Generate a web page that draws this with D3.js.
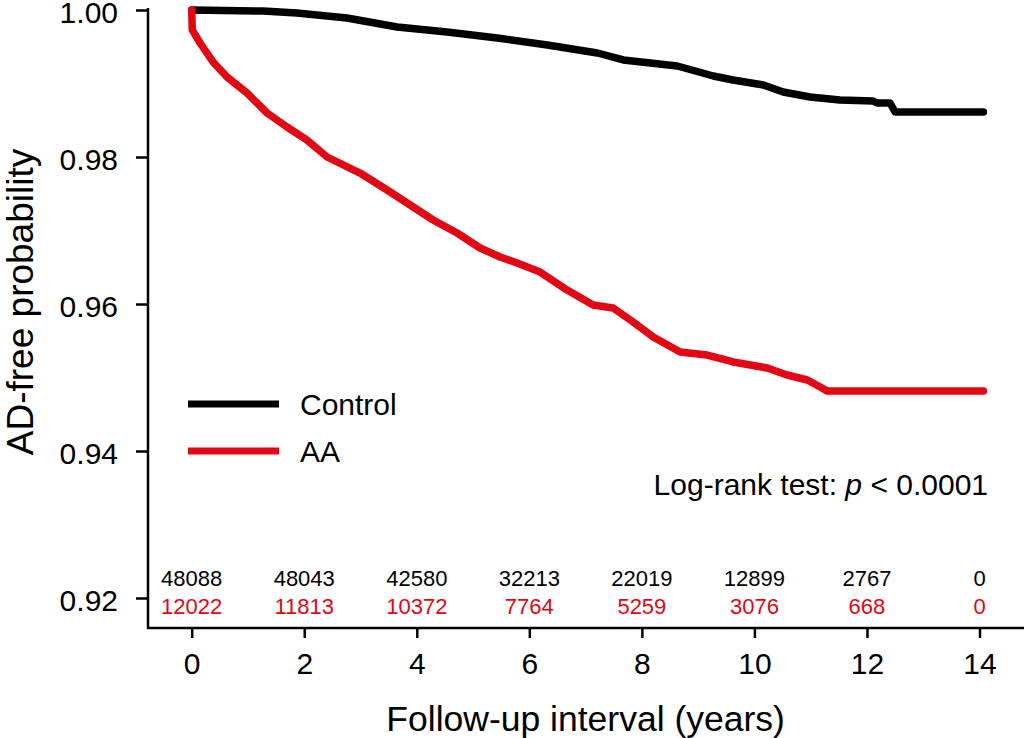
<!DOCTYPE html>
<html>
<head>
<meta charset="utf-8">
<script src="https://cdn.jsdelivr.net/npm/d3@7"></script>
<style>
  body { margin: 0; background: #fff; }
  svg { display: block; font-family: "Liberation Sans", Arial, sans-serif; }
</style>
</head>
<body>
<svg id="chart" width="1024" height="738"></svg>
<script>
// =======================================================
// Data
// =======================================================
const years = [0, 2, 4, 6, 8, 10, 12, 14];
const yTicks = [0.92, 0.94, 0.96, 0.98, 1.00];

const riskControl = [48088, 48043, 42580, 32213, 22019, 12899, 2767, 0];
const riskAA = [12022, 11813, 10372, 7764, 5259, 3076, 668, 0];

const controlTime = [0, 1.27, 1.87, 2.76, 3.65, 4.54, 5.43, 6.32, 7.21, 7.67, 8.63, 9.27, 9.62, 10.16, 10.51, 10.99, 11.52, 12.11, 12.18, 12.41, 12.50, 14.07];
const controlSurv = [1.0, 0.99986, 0.99959, 0.99891, 0.99769, 0.99701, 0.99619, 0.99524, 0.99415, 0.99320, 0.99238, 0.99102, 0.99048, 0.98980, 0.98884, 0.98816, 0.98776, 0.98762, 0.98735, 0.98735, 0.98612, 0.98612];

const aaTime = [0, 0.01, 0.148, 0.379, 0.628, 0.983, 1.339, 1.694, 2.05, 2.406, 2.992, 3.472, 3.828, 4.29, 4.716, 5.125, 5.481, 5.783, 6.192, 6.672, 7.134, 7.49, 7.845, 8.201, 8.681, 9.161, 9.623, 10.23, 10.58, 10.94, 11.17, 11.29, 14.07];
const aaSurv = [1.0, 0.9973, 0.99551, 0.99293, 0.99088, 0.98871, 0.98599, 0.98408, 0.98231, 0.98000, 0.97782, 0.97551, 0.97374, 0.97143, 0.96966, 0.96762, 0.96640, 0.96558, 0.96435, 0.96190, 0.95986, 0.95946, 0.95755, 0.95551, 0.95347, 0.95306, 0.95211, 0.95129, 0.95034, 0.94966, 0.94871, 0.94816, 0.94816];

const series = [
  { name: "Control", color: "#000000", t: controlTime, s: controlSurv, risk: riskControl },
  { name: "AA", color: "#e30613", t: aaTime, s: aaSurv, risk: riskAA },
];

// =======================================================
// Scales
// =======================================================
const svg = d3.select("#chart");

const x = d3.scaleLinear().domain([0, 14]).range([191.7, 979.5]);
const y = d3.scaleLinear().domain([0.92, 1.0]).range([598, 10]);

const AXIS_X = 148;   // y-axis line
const AXIS_Y = 628;   // x-axis line

// =======================================================
// Axes
// =======================================================
const gx = svg.append("g")
  .attr("transform", `translate(0,${AXIS_Y})`)
  .call(d3.axisBottom(x).tickValues(years).tickSize(10).tickPadding(15));
gx.select(".domain").remove();
gx.selectAll("line").attr("stroke", "#000").attr("stroke-width", 2.5);
gx.selectAll("text").style("font-size", "30px").attr("fill", "#000");

const gy = svg.append("g")
  .attr("transform", `translate(${AXIS_X},0)`)
  .call(d3.axisLeft(y).tickValues(yTicks).tickFormat(d3.format(".2f")).tickSize(12).tickPadding(18));
gy.select(".domain").remove();
gy.selectAll("line").attr("stroke", "#000").attr("stroke-width", 2.5);
gy.selectAll("text").style("font-size", "30px").attr("fill", "#000").attr("dy", "0.4em");

// L-shaped frame
svg.append("path")
  .attr("d", `M${AXIS_X},8 V${AXIS_Y} H1024`)
  .attr("fill", "none")
  .attr("stroke", "#000")
  .attr("stroke-width", 2.5);

// Axis titles
svg.append("text")
  .attr("x", (x(0) + x(14)) / 2)
  .attr("y", 731)
  .attr("text-anchor", "middle")
  .style("font-size", "35.5px")
  .text("Follow-up interval (years)");

svg.append("text")
  .attr("transform", `translate(33,${(y(0.92) + y(1.0)) / 2 - 2}) rotate(-90)`)
  .attr("text-anchor", "middle")
  .style("font-size", "37px")
  .text("AD-free probability");

// =======================================================
// Survival curves
// =======================================================
const line = d3.line()
  .x(d => x(d[0]))
  .y(d => y(d[1]));

series.forEach(sr => {
  svg.append("path")
    .datum(d3.zip(sr.t, sr.s))
    .attr("d", line)
    .attr("fill", "none")
    .attr("stroke", sr.color)
    .attr("stroke-width", 7.5)
    .attr("stroke-linecap", "round")
    .attr("stroke-linejoin", "round");
});

// =======================================================
// Numbers at risk
// =======================================================
const riskRows = [586, 614];
series.forEach((sr, i) => {
  svg.append("g")
    .selectAll("text")
    .data(sr.risk)
    .enter()
    .append("text")
    .attr("x", (d, j) => x(years[j]))
    .attr("y", riskRows[i])
    .attr("text-anchor", "middle")
    .attr("fill", sr.color)
    .style("font-size", "22px")
    .text(d => d);
});

// =======================================================
// Legend
// =======================================================
const legend = svg.append("g").attr("transform", "translate(188,404)");
series.forEach((sr, i) => {
  const row = legend.append("g").attr("transform", `translate(0,${i * 47})`);
  row.append("line")
    .attr("x1", 0).attr("x2", 91)
    .attr("y1", 0).attr("y2", 0)
    .attr("stroke", sr.color)
    .attr("stroke-width", 7);
  row.append("text")
    .attr("x", 112)
    .attr("y", 11)
    .style("font-size", "30px")
    .text(sr.name);
});

// Log-rank annotation
const note = svg.append("text")
  .attr("x", 988)
  .attr("y", 495)
  .attr("text-anchor", "end")
  .style("font-size", "30px");
note.append("tspan").text("Log-rank test: ");
note.append("tspan").style("font-style", "italic").text("p");
note.append("tspan").text(" < 0.0001");
</script>
</body>
</html>
